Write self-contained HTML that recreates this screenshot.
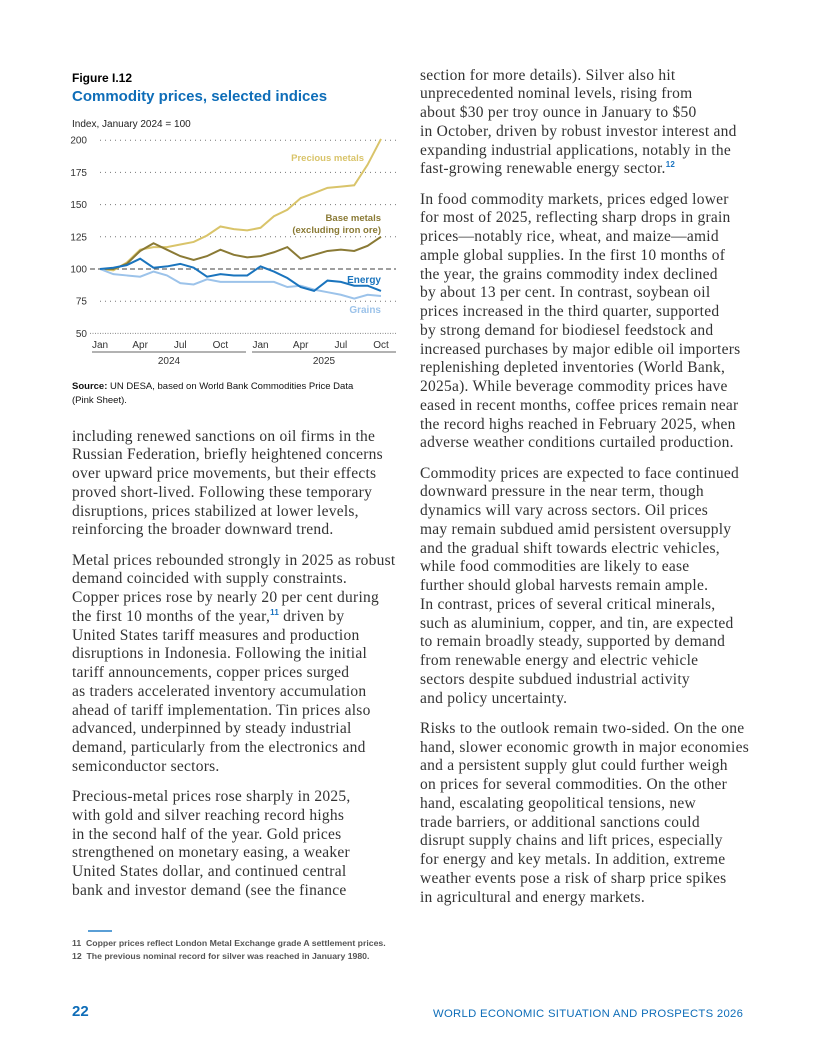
<!DOCTYPE html>
<html><head><meta charset="utf-8"><style>
body{margin:0;background:#fff;}
#p{position:relative;width:816px;height:1056px;overflow:hidden;font-family:"Liberation Serif",serif;color:#333;}
.l{position:absolute;white-space:nowrap;font-size:15.5px;letter-spacing:0.25px;line-height:19px;}
.s{font-family:"Liberation Sans",sans-serif;letter-spacing:0;}
sup{font-family:"Liberation Sans",sans-serif;font-size:8px;color:#1a73c0;font-weight:bold;line-height:0;vertical-align:6px;}
</style></head><body><div id="p">
<div class="l s" style="left:72px;top:69px;font-size:12px;font-weight:bold;color:#000">Figure I.12</div>
<div class="l s" style="left:72px;top:87px;font-size:15px;font-weight:bold;color:#0e6db8">Commodity prices, selected indices</div>
<div class="l s" style="left:72px;top:115px;font-size:10px;color:#222">Index, January 2024 = 100</div>
<svg id="ch" style="position:absolute;left:0;top:0" width="816" height="380" font-family="Liberation Sans, sans-serif" font-size="10"></svg>
<div class="l s" style="left:72px;top:380px;font-size:9.5px;line-height:14px;color:#111"><b>Source:</b> UN DESA, based on World Bank Commodities Price Data<br>(Pink Sheet).</div>
<div id="tx"></div>
<div style="position:absolute;left:88px;top:930px;width:24px;height:2px;background:#5a9fd6"></div>
<div class="l s" style="left:72px;top:937px;font-size:8.7px;line-height:13px;color:#555;font-weight:bold">11&nbsp; Copper prices reflect London Metal Exchange grade A settlement prices.<br>12&nbsp; The previous nominal record for silver was reached in January 1980.</div>
<div class="l s" style="left:72px;top:1002px;font-size:15px;font-weight:bold;color:#0e6db8">22</div>
<div class="l s" style="left:433px;top:1005px;font-size:11.3px;color:#0e6db8;letter-spacing:0.3px">WORLD ECONOMIC SITUATION AND PROSPECTS 2026</div>
</div>
<script>
var svg=document.getElementById('ch'),h='';
function Y(v){return 269-(v-100)*1.288;}function X(i){return 100+i*13.38;}
[200,175,150,125,75].forEach(function(v){h+='<line x1="100" x2="396" y1="'+Y(v)+'" y2="'+Y(v)+'" stroke="#777" stroke-dasharray="1,4"/>';});
[200,175,150,125,100,75,50].forEach(function(v){h+='<text x="87" y="'+(Y(v)+3.5)+'" text-anchor="end" fill="#333">'+v+'</text>';});
h+='<line x1="90" x2="396" y1="'+Y(100)+'" y2="'+Y(100)+'" stroke="#666" stroke-width="1.2" stroke-dasharray="5,3"/>';
h+='<line x1="90" x2="396" y1="'+Y(50)+'" y2="'+Y(50)+'" stroke="#888" stroke-width="1" stroke-dasharray="1,1.5"/>';
var S={pm:[100,99,105,115,117,117,119,121,126,133,131,130,132,141,146,155,159,163,164,165,181,201],
bm:[100,100,104,114,120,115,110,107,110,115,111,109,110,113,117,108,111,114,115,114,118,125],
gr:[100,96,95,94,98,95,89,88,92,90,90,90,90,90,86,87,84,82,80,77,80,79],
en:[100,101,103,108,101,102,104,101,94,96,95,95,102,98,93,86,83,91,90,87,87,83]};
var C={pm:'#d9c46a',bm:'#8a7a35',gr:'#9cc3ea',en:'#1a74bd'};
['pm','bm','gr','en'].forEach(function(k){h+='<polyline fill="none" stroke="'+C[k]+'" stroke-width="2" points="'+S[k].map(function(v,i){return X(i)+','+Y(v)}).join(' ')+'"/>';});
var m=['Jan','Apr','Jul','Oct','Jan','Apr','Jul','Oct'],mi=[0,3,6,9,12,15,18,21];
mi.forEach(function(i,j){h+='<text x="'+X(i)+'" y="348" text-anchor="middle" fill="#333">'+m[j]+'</text>';});
h+='<line x1="92" x2="246" y1="352" y2="352" stroke="#666"/><line x1="252" x2="396" y1="352" y2="352" stroke="#666"/>';
h+='<text x="169" y="364" text-anchor="middle" fill="#333">2024</text><text x="324" y="364" text-anchor="middle" fill="#333">2025</text>';
h+='<text x="364" y="161" text-anchor="end" fill="#d9c46a" font-weight="bold" font-size="9.5">Precious metals</text>';
h+='<text x="381" y="221" text-anchor="end" fill="#8a7a35" font-weight="bold" font-size="9.5">Base metals</text>';
h+='<text x="381" y="233" text-anchor="end" fill="#8a7a35" font-weight="bold" font-size="9.5">(excluding iron ore)</text>';
h+='<text x="381" y="283" text-anchor="end" fill="#1a74bd" font-weight="bold" font-size="10">Energy</text>';
h+='<text x="381" y="313" text-anchor="end" fill="#9cc3ea" font-weight="bold" font-size="10">Grains</text>';
svg.innerHTML=h;
function col(x,y0,lines){var o='';var y=y0;lines.forEach(function(t){if(t===null){y+=11.5;return;}o+='<div class="l" style="left:'+x+'px;top:'+(y-9.5)+'px">'+t+'</div>';y+=18.75;});return o;}
var L=["including renewed sanctions on oil firms in the","Russian Federation, briefly heightened concerns","over upward price movements, but their effects","proved short-lived. Following these temporary","disruptions, prices stabilized at lower levels,","reinforcing the broader downward trend.",null,
"Metal prices rebounded strongly in 2025 as robust","demand coincided with supply constraints.","Copper prices rose by nearly 20 per cent during","the first 10 months of the year,<sup>11</sup> driven by","United States tariff measures and production","disruptions in Indonesia. Following the initial","tariff announcements, copper prices surged","as traders accelerated inventory accumulation","ahead of tariff implementation. Tin prices also","advanced, underpinned by steady industrial","demand, particularly from the electronics and","semiconductor sectors.",null,
"Precious-metal prices rose sharply in 2025,","with gold and silver reaching record highs","in the second half of the year. Gold prices","strengthened on monetary easing, a weaker","United States dollar, and continued central","bank and investor demand (see the finance"];
var R=["section for more details). Silver also hit","unprecedented nominal levels, rising from","about $30 per troy ounce in January to $50","in October, driven by robust investor interest and","expanding industrial applications, notably in the","fast-growing renewable energy sector.<sup>12</sup>",null,
"In food commodity markets, prices edged lower","for most of 2025, reflecting sharp drops in grain","prices—notably rice, wheat, and maize—amid","ample global supplies. In the first 10 months of","the year, the grains commodity index declined","by about 13 per cent. In contrast, soybean oil","prices increased in the third quarter, supported","by strong demand for biodiesel feedstock and","increased purchases by major edible oil importers","replenishing depleted inventories (World Bank,","2025a). While beverage commodity prices have","eased in recent months, coffee prices remain near","the record highs reached in February 2025, when","adverse weather conditions curtailed production.",null,
"Commodity prices are expected to face continued","downward pressure in the near term, though","dynamics will vary across sectors. Oil prices","may remain subdued amid persistent oversupply","and the gradual shift towards electric vehicles,","while food commodities are likely to ease","further should global harvests remain ample.","In contrast, prices of several critical minerals,","such as aluminium, copper, and tin, are expected","to remain broadly steady, supported by demand","from renewable energy and electric vehicle","sectors despite subdued industrial activity","and policy uncertainty.",null,
"Risks to the outlook remain two-sided. On the one","hand, slower economic growth in major economies","and a persistent supply glut could further weigh","on prices for several commodities. On the other","hand, escalating geopolitical tensions, new","trade barriers, or additional sanctions could","disrupt supply chains and lift prices, especially","for energy and key metals. In addition, extreme","weather events pose a risk of sharp price spikes","in agricultural and energy markets."];
document.getElementById('tx').innerHTML=col(72,436,L)+col(420,75,R);
</script>
</body></html>
